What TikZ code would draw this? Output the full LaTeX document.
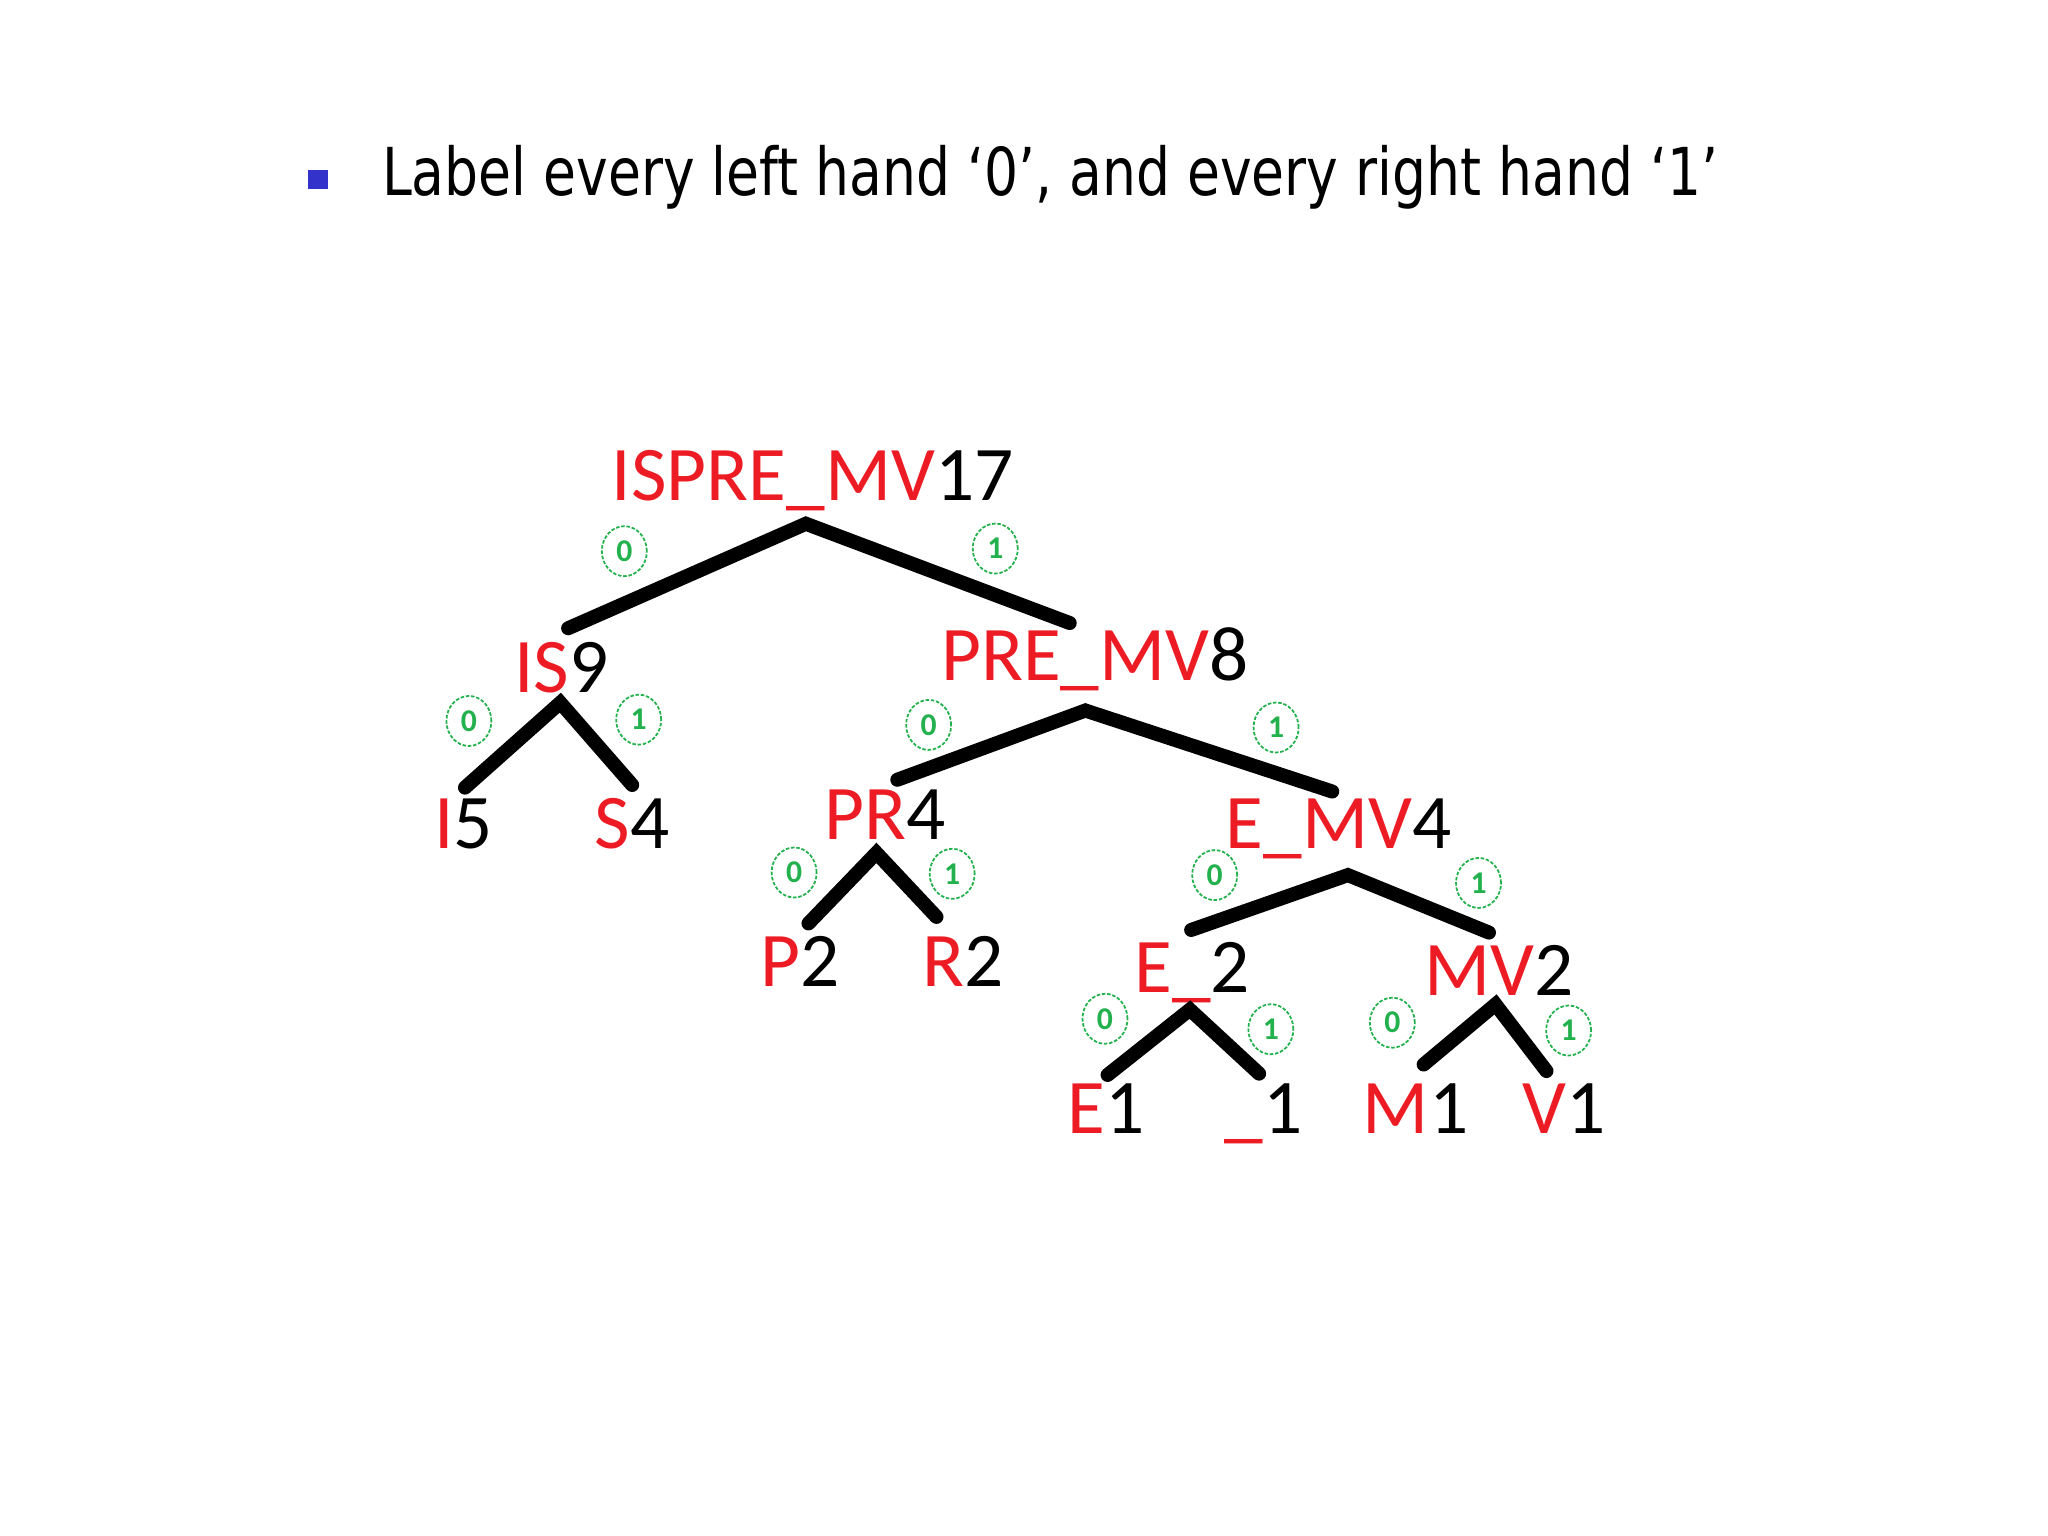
\documentclass[tikz,border=0pt]{standalone}
\usepackage{fontspec}
\usepackage{graphicx}
\usetikzlibrary{shapes.geometric}
\setmainfont{Carlito}
\newfontfamily\titlefont{DejaVu Sans}
\definecolor{hred}{RGB}{237,28,36}
\definecolor{hgreen}{RGB}{34,177,76}
\definecolor{hblue}{RGB}{51,51,204}
\newcommand{\rd}[1]{\textcolor{hred}{#1}}
\begin{document}
\begin{tikzpicture}[x=0.013061cm,y=-0.013061cm,
        tree/.style={inner sep=0pt,anchor=base west,font=\fontsize{22}{26}\selectfont},
        branch/.style={line width=4pt,line cap=round},
        bit/.style={ellipse,draw=hgreen,dash pattern=on 1pt off 0.5pt,line width=0.5pt,minimum width=0.45cm,minimum height=0.5cm,inner sep=0pt,text=hgreen,font=\fontsize{9}{10}\selectfont\bfseries}]
                \useasboundingbox[fill=white] (0,0) rectangle (1568,1176);
                % title line
                \fill[hblue] (236,130) rectangle (251,145);
                \node[inner sep=0pt,anchor=base west] (title) at (292,150)
                    {\resizebox{13.36cm}{\height}{\titlefont\fontsize{18.8}{22}\selectfont Label every left hand ‘0’, and every right hand ‘1’}};
                % tree labels
                \node[tree] (root) at (468,383) {\rd{ISPRE\_MV}17};
                \node[tree] (is)   at (393,530) {\rd{IS}9};
                \node[tree] (pm)   at (720,521) {\rd{PRE\_MV}8};
                \node[tree] (i)    at (332,650) {\rd{I}5};
                \node[tree] (s)    at (455,650) {\rd{S}4};
                \node[tree] (pr)   at (631,643) {\rd{PR}4};
                \node[tree] (emv)  at (938,650) {\rd{E\_MV}4};
                \node[tree] (p)    at (582,755) {\rd{P}2};
                \node[tree] (r)    at (706,755) {\rd{R}2};
                \node[tree] (eu)   at (868,760) {\rd{E\_}2};
                \node[tree] (mv)   at (1090,762) {\rd{MV}2};
                \node[tree] (e)    at (817,868) {\rd{E}1};
                \node[tree] (u)    at (937,868) {\rd{\_}1};
                \node[tree] (m)    at (1043,868) {\rd{M}1};
                \node[tree] (v)    at (1165,868) {\rd{V}1};
                % branch ends
                \coordinate (root-v) at (617,401);
                \coordinate (is-t)   at (435,481);
                \coordinate (pm-t)   at (819,477);
                \coordinate (is-v)   at (429,538);
                \coordinate (i-t)    at (356,603);
                \coordinate (s-t)    at (484,601);
                \coordinate (pm-v)   at (831,544);
                \coordinate (pr-t)   at (687,597);
                \coordinate (emv-t)  at (1020,606);
                \coordinate (pr-v)   at (671,653);
                \coordinate (p-t)    at (619,707);
                \coordinate (r-t)    at (717,702);
                \coordinate (emv-v)  at (1032,670);
                \coordinate (eu-t)   at (912,712);
                \coordinate (mv-t)   at (1140,714);
                \coordinate (eu-v)   at (911,773);
                \coordinate (e-t)    at (848,823);
                \coordinate (u-t)    at (964,822);
                \coordinate (mv-v)   at (1145,769);
                \coordinate (m-t)    at (1090,815);
                \coordinate (v-t)    at (1184,820);
                \draw[branch] (is-t) -- (root-v) -- (pm-t);
                \draw[branch] (i-t) -- (is-v) -- (s-t);
                \draw[branch] (pr-t) -- (pm-v) -- (emv-t);
                \draw[branch] (p-t) -- (pr-v) -- (r-t);
                \draw[branch] (eu-t) -- (emv-v) -- (mv-t);
                \draw[branch] (e-t) -- (eu-v) -- (u-t);
                \draw[branch] (m-t) -- (mv-v) -- (v-t);
                % 0 and 1 marks
                \foreach \n/\x/\y/\b in {root0/478/422/0,root1/762/420/1,is0/359/552/0,is1/489/551/1,
                        pm0/711/555/0,pm1/977/557/1,pr0/608/668/0,pr1/729/669/1,
                        emv0/930/670/0,emv1/1132/676/1,eu0/846/780/0,eu1/973/788/1,
                        mv0/1066/783/0,mv1/1201/789/1}{
                    \node[bit] (\n) at (\x,\y) {\b};
                }
            \end{tikzpicture}
\end{document}
